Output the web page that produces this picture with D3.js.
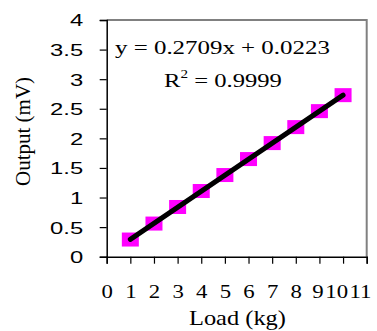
<!DOCTYPE html>
<html>
<head>
<meta charset="utf-8">
<script src="https://cdn.jsdelivr.net/npm/d3@7"></script>
<style>
body { margin: 0; background: #fff; }
</style>
</head>
<body>
<div id="chart"></div>
<script>
var loads = [1, 2, 3, 4, 5, 6, 7, 8, 9, 10];
var outputs = [0.29, 0.56, 0.84, 1.11, 1.38, 1.65, 1.92, 2.19, 2.46, 2.73];
var xTicks = [0, 1, 2, 3, 4, 5, 6, 7, 8, 9, 10, 11];
var yTicks = [0, 0.5, 1, 1.5, 2, 2.5, 3, 3.5, 4];
var slope = 0.2709, intercept = 0.0223;

var width = 377, height = 331;
var margin = {left: 106.7, top: 20, right: 10.3, bottom: 74.3};
var serif = "Liberation Serif, Times New Roman, serif";
var sans = "Liberation Sans, Arial, sans-serif";

var svg = d3.select("#chart").append("svg")
    .attr("width", width)
    .attr("height", height);

var x = d3.scaleLinear().domain([0, 11]).range([margin.left, width - margin.right]);
var y = d3.scaleLinear().domain([0, 4]).range([height - margin.bottom, margin.top]);

// stretch text horizontally so it fills a given width, starting at x0
function fitWidth(sel, x0, w) {
    var bw = sel.node().getBBox().width;
    var k = w / bw;
    sel.attr("transform", "translate(" + x0 + ",0) scale(" + k + ",1) translate(" + (-x0) + ",0)");
}

// plot frame, top and right in grey
svg.append("path")
    .attr("d", "M" + x(0) + "," + y(4) + "H" + x(11) + "V" + y(0))
    .attr("fill", "none")
    .attr("stroke", "#808080")
    .attr("stroke-width", 2);

var yAxis = svg.append("g")
    .attr("transform", "translate(" + x(0) + ",0)")
    .call(d3.axisLeft(y).tickValues(yTicks).tickSize(7)
        .tickFormat(function(d) { return d; }));
yAxis.selectAll("text")
    .attr("x", 0)
    .attr("dy", "0.35em")
    .attr("transform", "translate(-23.5,0) scale(1.4,1)")
    .style("font-family", sans)
    .style("font-size", "17px")
    .attr("fill", "#000");

var xAxis = svg.append("g")
    .attr("transform", "translate(0," + y(0) + ")")
    .call(d3.axisBottom(x).tickValues(xTicks).tickSize(7)
        .tickFormat(function(d) { return d; }));
var kx = 1.2;
var xl = xAxis.selectAll("text")
    .attr("y", 41)
    .attr("dy", 0)
    .style("font-family", serif)
    .style("font-size", "19px")
    .attr("fill", "#000");

// push the last labels left so they stay inside and do not overlap (like Excel)
var labs = xl.nodes().map(function(n, i) {
    var w = n.getComputedTextLength() * kx;
    return {node: n, c: x(xTicks[i]), w: w};
});
var limit = 371;
for (var i = labs.length - 1; i >= 0; i--) {
    var l = labs[i];
    var right = Math.min(l.c + l.w / 2, limit);
    l.shift = right - (l.c + l.w / 2);
    limit = right - l.w - 1.5;
}
// tick group is translated to x(d), so the scale is about the tick centre
labs.forEach(function(l) {
    d3.select(l.node).attr("transform", "translate(" + l.shift + ",0) scale(" + kx + ",1)")
        .attr("x", 0);
});

svg.selectAll(".domain").attr("stroke", "#000").attr("stroke-width", 1.5);
svg.selectAll(".tick line").attr("stroke", "#000").attr("stroke-width", 1.2);

// markers
svg.append("g")
    .selectAll("rect")
    .data(loads)
    .enter().append("rect")
    .attr("x", function(d) { return x(d) - 8.5; })
    .attr("y", function(d, i) { return y(outputs[i]) - 7; })
    .attr("width", 17)
    .attr("height", 14)
    .attr("fill", "#ff00ff");

// trend line
svg.append("line")
    .attr("x1", x(1)).attr("y1", y(slope * 1 + intercept))
    .attr("x2", x(10)).attr("y2", y(slope * 10 + intercept))
    .attr("stroke", "#000")
    .attr("stroke-width", 5)
    .attr("stroke-linecap", "round");

var eq = svg.append("text")
    .attr("x", 115).attr("y", 54)
    .style("font-family", serif).style("font-size", "19.5px")
    .text("y = 0.2709x + 0.0223");
fitWidth(eq, 115, 215);

var r2 = svg.append("text")
    .attr("x", 164).attr("y", 87)
    .style("font-family", serif).style("font-size", "19.5px");
r2.append("tspan").text("R");
r2.append("tspan").attr("dy", -9).style("font-size", "12px").text("2");
r2.append("tspan").attr("dy", 9).text(" = 0.9999");
fitWidth(r2, 164, 118);

var xt = svg.append("text")
    .attr("x", 189).attr("y", 325)
    .style("font-family", serif).style("font-size", "20px")
    .text("Load (kg)");
fitWidth(xt, 189, 97);

svg.append("text")
    .attr("transform", "translate(29.5,131.5) rotate(-90)")
    .attr("text-anchor", "middle")
    .style("font-family", serif).style("font-size", "21px")
    .text("Output (mV)");
</script>
</body>
</html>
